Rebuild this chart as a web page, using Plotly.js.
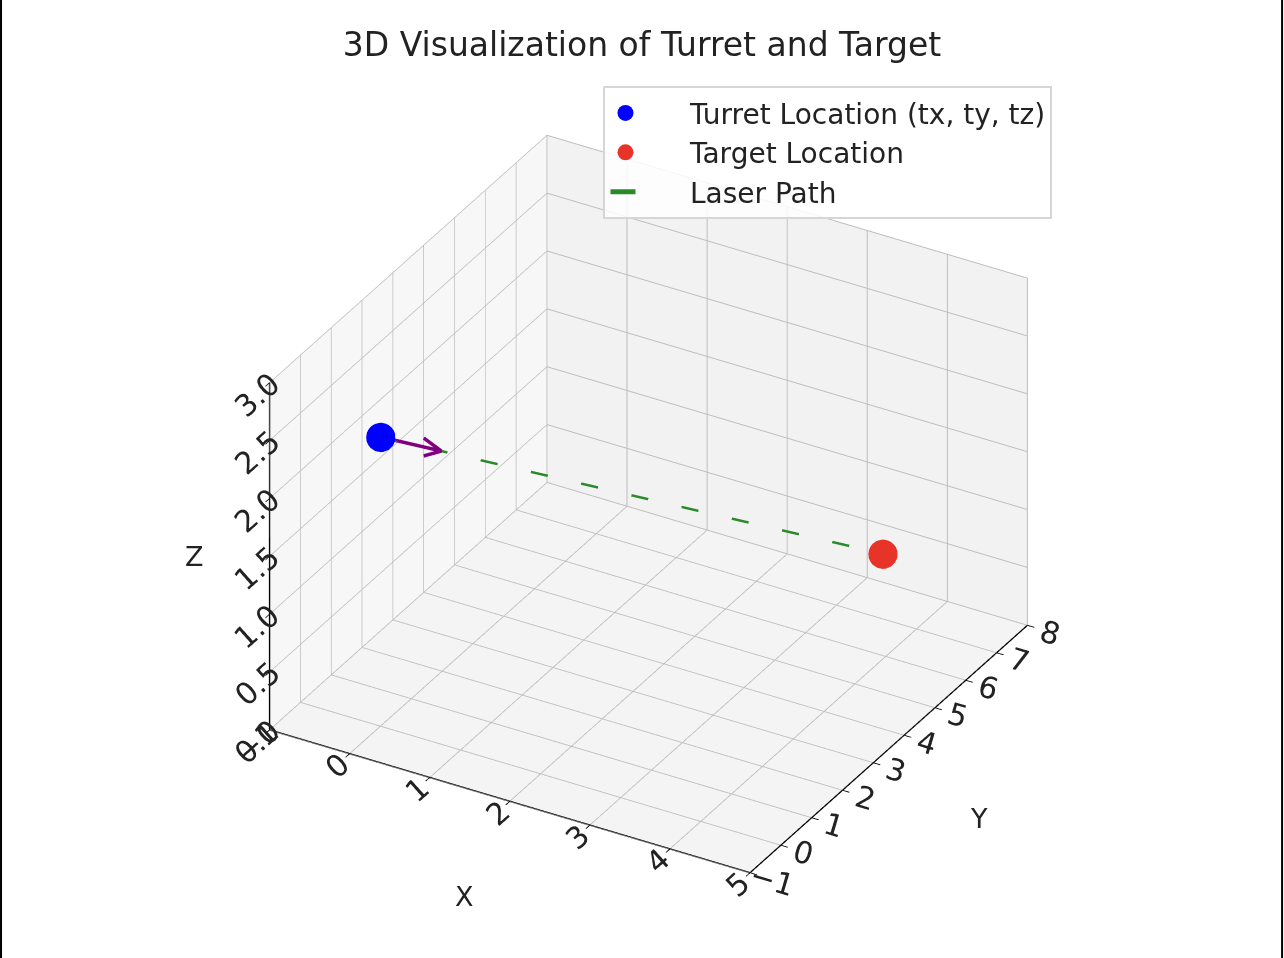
<!DOCTYPE html>
<html>
<head>
<meta charset="utf-8">
<script src="https://cdn.plot.ly/plotly-3.0.1.min.js"></script>
<style>html,body{margin:0;padding:0;background:#fff;}#chart{width:1284px;height:958px;}</style>
</head>
<body>
<div id="chart"></div>
<script>
// ---- data ----
const turret = [0, 0, 2.5];          // (tx, ty, tz)
const target = [3.5, 7.2, 0.5];
const arrowLength = 1.0;
const arrowHeadRatio = 0.3;
const xRange = [-1, 5];
const yRange = [-1, 8];
const zRange = [0, 3];
const zTicks = [0, 0.5, 1, 1.5, 2, 2.5, 3];
const zTickText = ['0.0', '0.5', '1.0', '1.5', '2.0', '2.5', '3.0'];
const legendNames = ['Turret Location (tx, ty, tz)', 'Target Location', 'Laser Path'];
const axisTitles = ['X', 'Y', 'Z'];

// ---- arrow geometry derived from data ----
const d = [target[0]-turret[0], target[1]-turret[1], target[2]-turret[2]];
const dl = Math.hypot(d[0], d[1], d[2]);
const u = d.map(v => v / dl);
const tip = turret.map((v, i) => v + arrowLength * u[i]);
let p = [0, 0, 1];
const ang = 15 * Math.PI / 180;
const hl = arrowLength * arrowHeadRatio;
const h1 = tip.map((v, i) => v - hl * (Math.cos(ang)*u[i] + Math.sin(ang)*p[i]));
const h2 = tip.map((v, i) => v - hl * (Math.cos(ang)*u[i] - Math.sin(ang)*p[i]));

const FONT = 'DejaVu Sans, Arial, sans-serif';
const PAD = '\u00a0\u00a0\u00a0\u00a0\u00a0';

const traces = [
  {
    type: 'scatter3d', mode: 'markers', name: PAD + legendNames[0],
    x: [turret[0]], y: [turret[1]], z: [turret[2]],
    marker: {color: '#0000ff', size: 17, line: {width: 0}},
    hoverinfo: 'skip'
  },
  {
    type: 'scatter3d', mode: 'markers', name: PAD + legendNames[1],
    x: [target[0]], y: [target[1]], z: [target[2]],
    marker: {color: '#e83428', size: 17, line: {width: 0}},
    hoverinfo: 'skip'
  },
  {
    type: 'scatter3d', mode: 'lines', name: PAD + legendNames[2],
    x: [turret[0], target[0]], y: [turret[1], target[1]], z: [turret[2], target[2]],
    line: {color: '#2a8a2a', width: 5, dash: 'longdash'},
    hoverinfo: 'skip'
  },
  {
    type: 'scatter3d', mode: 'lines', name: 'arrow', showlegend: false,
    x: [turret[0], tip[0]], y: [turret[1], tip[1]], z: [turret[2], tip[2]],
    line: {color: '#800080', width: 7},
    hoverinfo: 'skip'
  },
  {
    type: 'scatter3d', mode: 'lines', name: 'arrowhead', showlegend: false,
    x: [h1[0], tip[0], h2[0]], y: [h1[1], tip[1], h2[1]], z: [h1[2], tip[2], h2[2]],
    line: {color: '#800080', width: 7},
    hoverinfo: 'skip'
  }
];

function ax(range, bg, extra) {
  return Object.assign({
    title: {text: ''},
    range: range, autorange: false,
    showbackground: true, backgroundcolor: bg,
    showgrid: true, gridcolor: '#bdbdbd', gridwidth: 2,
    zeroline: false,
    showline: true, linecolor: '#000', linewidth: 3,
    ticks: 'outside', tickcolor: '#000', ticklen: 8, tickwidth: 2,
    tickfont: {family: FONT, size: 19, color: '#222'},
    showspikes: false
  }, extra || {});
}

const titleFont = {family: FONT, size: 27, color: '#222'};
const k = 1.55;
const s = 1.222;
const elev = 31 * Math.PI / 180, azim = -60 * Math.PI / 180;
const layout = {
  width: 1284, height: 958,
  paper_bgcolor: '#fff',
  margin: {l: 0, r: 0, t: 0, b: 0},
  font: {family: FONT, color: '#222'},
  title: {text: '3D Visualization of Turret and Target', font: {family: FONT, size: 33, color: '#222'},
          x: 0.5, xanchor: 'center', y: 1 - 44/958, yanchor: 'middle'},
  showlegend: true,
  hovermode: false,
  legend: {x: 0.47, y: 0.91, xanchor: 'left', yanchor: 'top',
           bgcolor: 'rgba(255,255,255,0.85)', bordercolor: '#d6d6d6', borderwidth: 2,
           font: {family: FONT, size: 28, color: '#222'},
           traceorder: 'normal'},
  scene: {
    domain: {x: [0.01, 1], y: [0, 0.948]},
    aspectmode: 'manual', aspectratio: {x: s, y: s, z: 0.73*s},
    camera: {eye: {x: k*Math.cos(elev)*Math.cos(azim), y: k*Math.cos(elev)*Math.sin(azim), z: k*Math.sin(elev)},
             center: {x: 0, y: 0, z: 0}, up: {x: 0, y: 0, z: 1},
             projection: {type: 'orthographic'}},
    xaxis: ax(xRange, '#f7f7f7', {dtick: 1, tick0: 0}),
    yaxis: ax(yRange, '#f2f2f2', {dtick: 1, tick0: 0}),
    zaxis: ax(zRange, '#f4f4f4', {tickvals: zTicks, ticktext: zTickText}),
    annotations: [
      {x: (xRange[0]+xRange[1])/2, y: yRange[0], z: zRange[0], text: axisTitles[0], showarrow: false,
       xshift: -45, yshift: -95, font: titleFont},
      {x: xRange[1], y: (yRange[0]+yRange[1])/2, z: zRange[0], text: axisTitles[1], showarrow: false,
       xshift: 90, yshift: -70, font: titleFont},
      {x: xRange[0], y: yRange[0], z: (zRange[0]+zRange[1])/2, text: axisTitles[2], showarrow: false,
       xshift: -75, yshift: 0, font: titleFont}
    ]
  },
  shapes: [
    {type: 'line', xref: 'paper', yref: 'paper', x0: 0.0008, x1: 0.0008, y0: 0, y1: 1, line: {color: '#000', width: 2}},
    {type: 'line', xref: 'paper', yref: 'paper', x0: 0.9985, x1: 0.9985, y0: 0, y1: 1, line: {color: '#000', width: 2}}
  ]
};

Plotly.newPlot('chart', traces, layout, {displayModeBar: false});
</script>
</body>
</html>
